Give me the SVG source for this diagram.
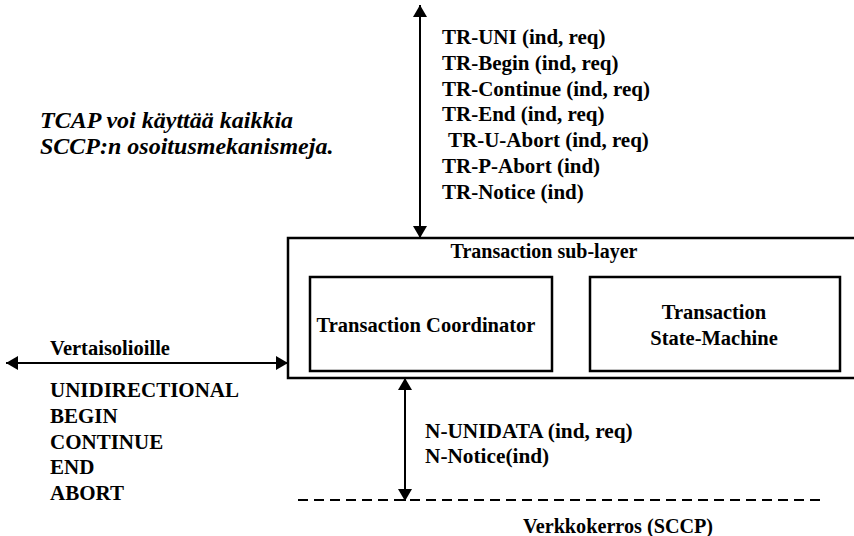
<svg xmlns="http://www.w3.org/2000/svg" width="854" height="536" viewBox="0 0 854 536">
<style>
text{font-family:"Liberation Serif","Times New Roman",serif;font-weight:bold;font-size:21px;fill:#000}
.it{font-style:italic;font-size:24px}
.mid{text-anchor:middle}
.box{fill:none;stroke:#000;stroke-width:2.5}
.conn{stroke:#000;stroke-width:2;fill:none}
</style>
<defs>
<marker id="ah" viewBox="0 0 12 14" refX="12" refY="7" markerWidth="12" markerHeight="14" markerUnits="userSpaceOnUse" orient="auto-start-reverse">
<path d="M0,0 L12,7 L0,14 z" fill="#000"/>
</marker>
</defs>
<rect width="854" height="536" fill="#fff"/>

<g id="note">
<text class="it" x="40" y="128">TCAP voi käyttää kaikkia</text>
<text class="it" x="40" y="154">SCCP:n osoitusmekanismeja.</text>
</g>

<g id="tr-primitives">
<text x="442" y="44">TR-UNI (ind, req)</text>
<text x="442" y="70">TR-Begin (ind, req)</text>
<text x="442" y="96">TR-Continue (ind, req)</text>
<text x="442" y="121">TR-End (ind, req)</text>
<text x="448" y="147">TR-U-Abort (ind, req)</text>
<text x="442" y="173">TR-P-Abort (ind)</text>
<text x="442" y="199">TR-Notice (ind)</text>
</g>

<g id="transaction-sublayer">
<path class="box" d="M870,238 H288 V378 H870"/>
<text class="mid" x="544" y="258" style="font-size:20px">Transaction sub-layer</text>
</g>

<g id="transaction-coordinator">
<rect class="box" x="310" y="277" width="242" height="94"/>
<text class="mid" x="426" y="332" style="font-size:20.5px">Transaction Coordinator</text>
</g>

<g id="transaction-state-machine">
<rect class="box" x="590" y="277" width="250" height="94"/>
<text class="mid" x="714" y="319" style="font-size:20.5px">Transaction</text>
<text class="mid" x="714" y="345" style="font-size:20.5px">State-Machine</text>
</g>

<g id="peer">
<text x="50" y="355" style="font-size:20.5px">Vertaisolioille</text>
<text x="50" y="397">UNIDIRECTIONAL</text>
<text x="50" y="423">BEGIN</text>
<text x="50" y="449">CONTINUE</text>
<text x="50" y="474">END</text>
<text x="50" y="500">ABORT</text>
</g>

<g id="n-primitives">
<text x="425" y="438" style="font-size:21.3px">N-UNIDATA (ind, req)</text>
<text x="425" y="463" style="font-size:21.3px">N-Notice(ind)</text>
</g>

<g id="network-layer">
<line x1="298" y1="500" x2="822" y2="500" stroke="#000" stroke-width="2" stroke-dasharray="10,6"/>
<text x="523" y="533" style="font-size:20.2px">Verkkokerros (SCCP)</text>
</g>

<g id="connectors">
<line class="conn" x1="420" y1="5" x2="420" y2="238" marker-start="url(#ah)" marker-end="url(#ah)"/>
<line class="conn" x1="6" y1="363" x2="288" y2="363" marker-start="url(#ah)" marker-end="url(#ah)"/>
<line class="conn" x1="405" y1="378" x2="405" y2="501" marker-start="url(#ah)" marker-end="url(#ah)"/>
</g>
</svg>
